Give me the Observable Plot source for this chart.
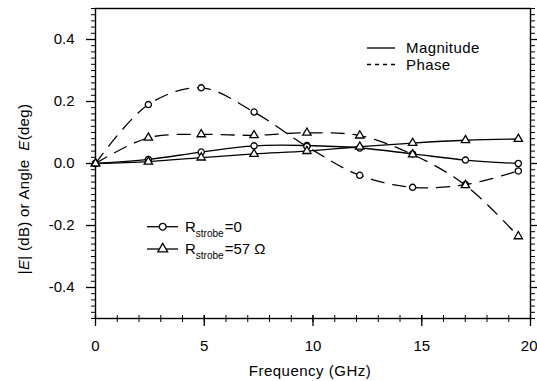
<!DOCTYPE html>
<html><head><meta charset="utf-8">
<script src="https://cdn.jsdelivr.net/npm/d3@7"></script>
<script src="https://cdn.jsdelivr.net/npm/@observablehq/plot@0.6"></script>
<style>
body{margin:0;background:#fff}
svg text{white-space:pre}
</style>
</head><body><div id="chart"></div>
<script>
// ---- data ----
const freq     = [0, 2.43, 4.86, 7.29, 9.72, 12.15, 14.58, 17.01, 19.44];
const magR0    = [0, 0.013, 0.037, 0.057, 0.058, 0.050, 0.031, 0.011, 0.000];
const phaseR0  = [0, 0.190, 0.244, 0.166, 0.055, -0.038, -0.077, -0.068, -0.024];
const magR57   = [0, 0.006, 0.019, 0.031, 0.040, 0.054, 0.066, 0.075, 0.079];
const phaseR57 = [0, 0.083, 0.094, 0.091, 0.099, 0.090, 0.029, -0.070, -0.235];
const xTicks = [0, 5, 10, 15, 20];
const xMinor = d3.range(0, 21, 1);
const yTicks = [-0.4, -0.2, 0.0, 0.2, 0.4];
const yMinor = d3.range(-50, 51, 2).map(d => d / 100);
const legendLines = ["Magnitude", "Phase"];
const legendSeries = ["=0", "=57 \u03A9"];

const series = [
  {key: "magR0", kind: "mag", sym: "circle", vals: magR0},
  {key: "phaseR0", kind: "phase", sym: "circle", vals: phaseR0},
  {key: "magR57", kind: "mag", sym: "triangle", vals: magR57},
  {key: "phaseR57", kind: "phase", sym: "triangle", vals: phaseR57}
];
const rows = series.flatMap(s => freq.map((f, i) => ({f, v: s.vals[i], key: s.key, kind: s.kind, sym: s.sym})));

const FONT = "'Liberation Sans', Arial, Helvetica, sans-serif";
const blank = () => "";

const plot = Plot.plot({
  width: 537, height: 381,
  marginLeft: 95, marginRight: 7, marginTop: 8, marginBottom: 63,
  x: {domain: [0, 20]},
  y: {domain: [-0.5, 0.5]},
  symbol: {domain: ["circle", "triangle"], range: ["circle", "triangle"]},
  style: {fontFamily: FONT, fontSize: "15px", color: "black", background: "white"},
  marks: [
    // axes
    Plot.axisY(yTicks, {anchor: "left", tickSize: 9, tickPadding: 12, tickFormat: d => d.toFixed(1), label: null, strokeWidth: 1.3}),
    Plot.axisY(yMinor, {anchor: "left", tickSize: 4, tickFormat: blank, label: null}),
    Plot.axisY(yTicks, {anchor: "right", tickSize: 7, tickFormat: blank, label: null, strokeWidth: 1.3}),
    Plot.axisY(yMinor, {anchor: "right", tickSize: 4, tickFormat: blank, label: null}),
    Plot.axisX(xTicks, {anchor: "bottom", tickSize: 11, insetBottom: 3, tickFormat: blank, label: null, strokeWidth: 1.3}),
    Plot.axisX(xMinor, {anchor: "bottom", tickSize: 7, insetBottom: 3, tickFormat: blank, label: null}),
    Plot.axisX(xTicks.slice(0, -1), {anchor: "bottom", tickSize: 0, tickPadding: 22, label: null}),
    Plot.axisX(xTicks.slice(-1), {anchor: "bottom", tickSize: 0, tickPadding: 22, label: null, textAnchor: "end", dx: 7}),
    Plot.frame({stroke: "black", strokeWidth: 1.4}),
    // lines
    Plot.line(rows.filter(d => d.kind === "mag"), {x: "f", y: "v", z: "key", curve: "catmull-rom", stroke: "black", strokeWidth: 1.3}),
    Plot.line(rows.filter(d => d.kind === "phase"), {x: "f", y: "v", z: "key", curve: "catmull-rom", stroke: "black", strokeWidth: 1.3, strokeDasharray: "13,9"}),
    // markers
    Plot.dot(rows, {x: "f", y: "v", symbol: "sym", r: 3.1, fill: "white", stroke: "black", strokeWidth: 1.3})
  ]
});
document.getElementById("chart").appendChild(plot);

// ---- titles and legends (text overlaid in svg pixel space) ----
const svg = d3.select(plot);
const g = svg.append("g").attr("font-family", FONT).attr("fill", "black").attr("text-anchor", "start");

// x title
g.append("text").attr("x", 310).attr("y", 376).attr("text-anchor", "middle")
  .attr("font-size", 15).attr("letter-spacing", "0.5px").text("Frequency (GHz)");

// y title
const yt = g.append("text").attr("transform", "translate(29,189) rotate(-90)")
  .attr("text-anchor", "middle").attr("font-size", 15).attr("letter-spacing", "0.3px");
yt.append("tspan").text("|");
yt.append("tspan").attr("font-style", "italic").text("E");
yt.append("tspan").text("| (dB) or Angle  ");
yt.append("tspan").attr("font-style", "italic").text("E");
yt.append("tspan").text("(deg)");

// top-right legend
const lg = g.append("g");
[0, 1].forEach(i => {
  const yy = 48 + i * 16.5;
  lg.append("line").attr("x1", 367).attr("x2", 395).attr("y1", yy).attr("y2", yy)
    .attr("stroke", "black").attr("stroke-width", 1.3)
    .attr("stroke-dasharray", i === 1 ? "4,4" : null);
  lg.append("text").attr("x", 406).attr("y", yy + 5).attr("font-size", 15)
    .attr("letter-spacing", "0.4px").text(legendLines[i]);
});

// bottom-left legend
[0, 1].forEach(i => {
  const yy = 226.7 + i * 22.3;
  lg.append("line").attr("x1", 147).attr("x2", 178).attr("y1", yy).attr("y2", yy)
    .attr("stroke", "black").attr("stroke-width", 1.3);
  const path = i === 0 ? d3.symbol(d3.symbolCircle, Math.PI * 3.4 * 3.4) : d3.symbol(d3.symbolTriangle, 42);
  lg.append("path").attr("d", path()).attr("transform", `translate(162.7,${yy})`)
    .attr("fill", "white").attr("stroke", "black").attr("stroke-width", 1.3);
  const t = lg.append("text").attr("x", 185).attr("y", yy + 5).attr("font-size", 15);
  t.append("tspan").text("R");
  t.append("tspan").attr("font-size", 10).attr("dy", 5).text("strobe");
  t.append("tspan").attr("dy", -5).attr("dx", 1).text(legendSeries[i]);
});
</script>
</body></html>
